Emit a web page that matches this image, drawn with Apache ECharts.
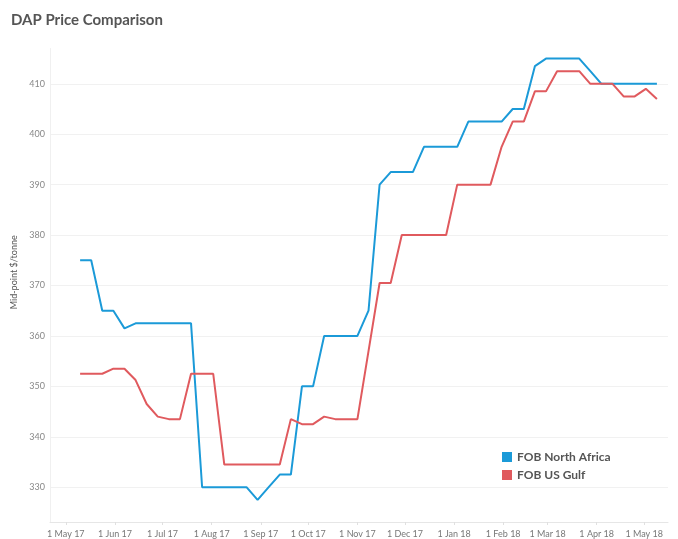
<!DOCTYPE html>
<html>
<head>
<meta charset="utf-8">
<script src="https://cdn.jsdelivr.net/npm/echarts@6/dist/echarts.min.js"></script>
<style>
html,body{margin:0;padding:0;background:#fff;}
#chart{width:678px;height:539px;}
</style>
</head>
<body>
<div id="chart"></div>
<script>
// Weekly assessment dates (Wednesdays)
const dates = [
  '2017-05-10','2017-05-17','2017-05-24','2017-05-31','2017-06-07','2017-06-14','2017-06-21','2017-06-28',
  '2017-07-05','2017-07-12','2017-07-19','2017-07-26','2017-08-02','2017-08-09','2017-08-16','2017-08-23',
  '2017-08-30','2017-09-06','2017-09-13','2017-09-20','2017-09-27','2017-10-04','2017-10-11','2017-10-18',
  '2017-10-25','2017-11-01','2017-11-08','2017-11-15','2017-11-22','2017-11-29','2017-12-06','2017-12-13',
  '2017-12-20','2017-12-27','2018-01-03','2018-01-10','2018-01-17','2018-01-24','2018-01-31','2018-02-07',
  '2018-02-14','2018-02-21','2018-02-28','2018-03-07','2018-03-14','2018-03-21','2018-03-28','2018-04-04',
  '2018-04-11','2018-04-18','2018-04-25','2018-05-02','2018-05-09'
];
const fobNorthAfrica = [
  375, 375, 365, 365, 361.5, 362.5, 362.5, 362.5,
  362.5, 362.5, 362.5, 330, 330, 330, 330, 330,
  327.5, 330, 332.5, 332.5, 350, 350, 360, 360,
  360, 360, 365, 390, 392.5, 392.5, 392.5, 397.5,
  397.5, 397.5, 397.5, 402.5, 402.5, 402.5, 402.5, 405,
  405, 413.5, 415, 415, 415, 415, 412.5, 410,
  410, 410, 410, 410, 410
];
const fobUSGulf = [
  352.5, 352.5, 352.5, 353.5, 353.5, 351.25, 346.5, 344,
  343.5, 343.5, 352.5, 352.5, 352.5, 334.5, 334.5, 334.5,
  334.5, 334.5, 334.5, 343.5, 342.5, 342.5, 344, 343.5,
  343.5, 343.5, 357, 370.5, 370.5, 380, 380, 380,
  380, 380, 390, 390, 390, 390, 397.5, 402.5,
  402.5, 408.5, 408.5, 412.5, 412.5, 412.5, 410, 410,
  410, 407.5, 407.5, 409, 407
];
const seriesNames = ['FOB North Africa', 'FOB US Gulf'];
const monthNames = ['Jan','Feb','Mar','Apr','May','Jun','Jul','Aug','Sep','Oct','Nov','Dec'];

function utc(s){ const p = s.split('-').map(Number); return Date.UTC(p[0], p[1]-1, p[2]); }
function pairs(vals){ return dates.map((d,i)=>[utc(d), vals[i]]); }

const DAY = 86400000;
const chart = echarts.init(document.getElementById('chart'));
chart.setOption({
  useUTC: true,
  animation: false,
  backgroundColor: '#ffffff',
  title: {
    text: 'DAP Price Comparison',
    left: 6, top: 8,
    textStyle: { fontFamily: 'Lato', fontWeight: 'bold', fontSize: 15, color: '#555555' }
  },
  legend: {
    orient: 'vertical',
    left: 497, top: 446,
    icon: 'rect',
    itemWidth: 10, itemHeight: 10,
    itemGap: 6,
    textStyle: { fontFamily: 'Lato', fontWeight: 'bold', fontSize: 12, color: '#555555' },
    data: seriesNames
  },
  grid: { left: 50, right: 10, top: 48.5, bottom: 14, containLabel: false },
  xAxis: {
    type: 'time',
    min: utc('2017-04-21'),
    max: utc('2018-05-16'),
    splitNumber: 13,
    minInterval: 28 * DAY,
    maxInterval: 31 * DAY,
    axisLine: { show: true, lineStyle: { color: '#e6e6e6', width: 1 } },
    axisTick: { show: true, length: 3, lineStyle: { color: '#e0e0e0' } },
    splitLine: { show: false },
    axisLabel: {
      showMinLabel: false, showMaxLabel: false,
      hideOverlap: false,
      margin: 8,
      fontFamily: 'Lato', fontSize: 9, color: '#777777',
      formatter: function (v) {
        const d = new Date(v);
        return d.getUTCDate() + ' ' + monthNames[d.getUTCMonth()] + ' ' + String(d.getUTCFullYear()).slice(2);
      }
    }
  },
  yAxis: {
    type: 'value',
    min: 323.1, max: 417,
    splitNumber: 9,
    name: 'Mid-point $/tonne',
    nameLocation: 'middle',
    nameGap: 30,
    nameTextStyle: { fontFamily: 'Lato', fontSize: 9, color: '#555555', padding: [0, 0, 0, 26] },
    axisLine: { show: true, lineStyle: { color: '#f0f0f0' } },
    axisTick: { show: false },
    splitLine: { show: true, showMinLine: false, showMaxLine: false, lineStyle: { color: '#f1f1f1', width: 1 } },
    axisLabel: {
      showMinLabel: false, showMaxLabel: false,
      margin: 5,
      fontFamily: 'Lato', fontSize: 9, color: '#888888'
    }
  },
  series: [
    {
      name: seriesNames[0], type: 'line', data: pairs(fobNorthAfrica),
      showSymbol: false, symbol: 'none',
      lineStyle: { color: '#1b9ad8', width: 2 }, itemStyle: { color: '#1b9ad8' }
    },
    {
      name: seriesNames[1], type: 'line', data: pairs(fobUSGulf),
      showSymbol: false, symbol: 'none',
      lineStyle: { color: '#e05a5e', width: 2 }, itemStyle: { color: '#e05a5e' }
    }
  ]
});
</script>
</body>
</html>
